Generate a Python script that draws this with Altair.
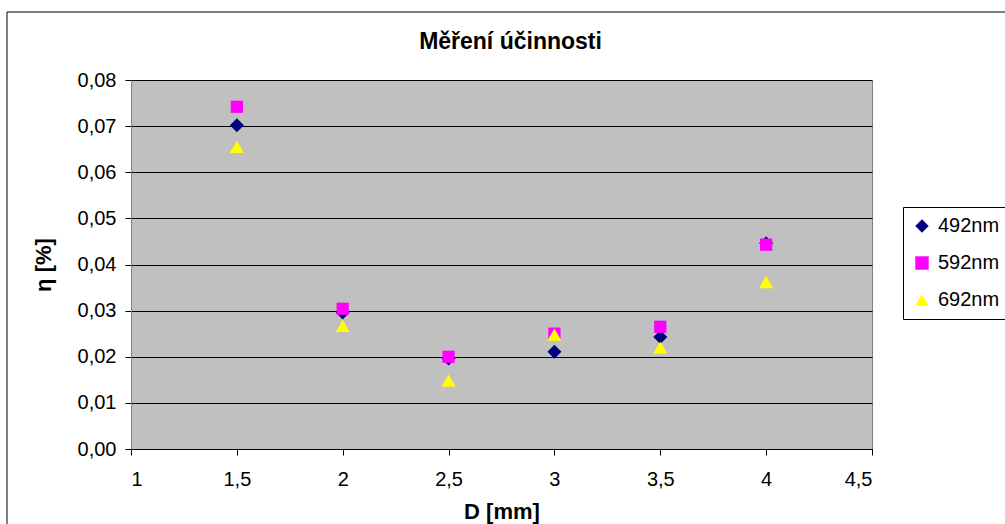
import altair as alt
import pandas as pd

# ---- data ----
D = [1.5, 2.0, 2.5, 3.0, 3.5, 4.0]
eta_492 = [0.0702, 0.0296, 0.0196, 0.0211, 0.0243, 0.0446]
eta_592 = [0.0742, 0.0304, 0.0200, 0.0250, 0.0265, 0.0443]
eta_692 = [0.0655, 0.0267, 0.0148, 0.0248, 0.0220, 0.0362]

series = ["492nm", "592nm", "692nm"]
colors = ["#000080", "#FF00FF", "#FFFF00"]
shapes = ["diamond", "square", "triangle-up"]
sizes = [196, 150, 200]

x_ticks = [1, 1.5, 2, 2.5, 3, 3.5, 4, 4.5]
y_ticks = [0, 0.01, 0.02, 0.03, 0.04, 0.05, 0.06, 0.07, 0.08]

rows = []
for name, vals in zip(series, [eta_492, eta_592, eta_692]):
    for d, v in zip(D, vals):
        rows.append({"D": d, "eta": v, "series": name})
df = pd.DataFrame(rows)

FONT = "Liberation Sans"

legend = alt.Legend(
    title=None,
    orient="none",
    legendX=772,
    legendY=127,
    strokeColor="black",
    fillColor="white",
    padding=9,
    rowPadding=17,
    labelFontSize=20,
    labelFont=FONT,
    labelColor="black",
    symbolStrokeWidth=0,
    symbolOpacity=1,
    symbolSize=180,
    labelOffset=6,
)

x_enc = alt.X(
    "D:Q",
    scale=alt.Scale(domain=[1, 4.5], nice=False, zero=False),
    axis=alt.Axis(
        values=x_ticks,
        title="D [mm]",
        labelExpr="replace(format(datum.value, '~g'), '.', ',')",
        grid=False,
        domainColor="black",
        tickColor="black",
        tickSize=6,
        labelPadding=14,
        titlePadding=12,
    ),
)
y_enc = alt.Y(
    "eta:Q",
    scale=alt.Scale(domain=[0, 0.08], nice=False),
    axis=alt.Axis(
        values=y_ticks,
        title="η [%]",
        labelExpr="replace(format(datum.value, '.2f'), '.', ',')",
        grid=True,
        gridColor="black",
        gridOpacity=1,
        gridWidth=1,
        domainColor="#808080",
        tickColor="black",
        tickSize=6,
        labelPadding=9,
        titlePadding=22,
    ),
)
c_enc = alt.Color("series:N", scale=alt.Scale(domain=series, range=colors), legend=legend)
s_enc = alt.Shape("series:N", scale=alt.Scale(domain=series, range=shapes), legend=legend)

layers = []
for name, sz in zip(series, sizes):
    layers.append(
        alt.Chart(df[df["series"] == name])
        .mark_point(filled=True, opacity=1, strokeWidth=0, size=sz, clip=False)
        .encode(x=x_enc, y=y_enc, color=c_enc, shape=s_enc)
    )

frame = alt.Chart(pd.DataFrame({"a": [0]})).mark_rect(
    fill="transparent", stroke="black", strokeWidth=1, clip=False
).encode(
    x=alt.value(-124), x2=alt.value(900), y=alt.value(-68), y2=alt.value(500)
)

chart = alt.layer(frame, *layers).properties(
    width=741,
    height=369,
    autosize=alt.AutoSizeParams(type="none"),
    padding={"left": 131, "top": 80, "right": 133, "bottom": 75},
    background="white",
    title=alt.TitleParams(
        "Měření účinnosti",
        font=FONT,
        fontSize=23,
        fontWeight="bold",
        color="black",
        anchor="middle",
        baseline="alphabetic",
        offset=0,
        dy=60,
        dx=9,
    ),
).configure_view(
    fill="#C0C0C0", stroke="#808080", strokeWidth=1
).configure_axis(
    labelFont=FONT,
    labelFontSize=20,
    labelColor="black",
    titleFont=FONT,
    titleFontSize=22,
    titleFontWeight="bold",
    titleColor="black",
)

chart.save("out.html", embed_options={"renderer": "svg", "actions": False})
